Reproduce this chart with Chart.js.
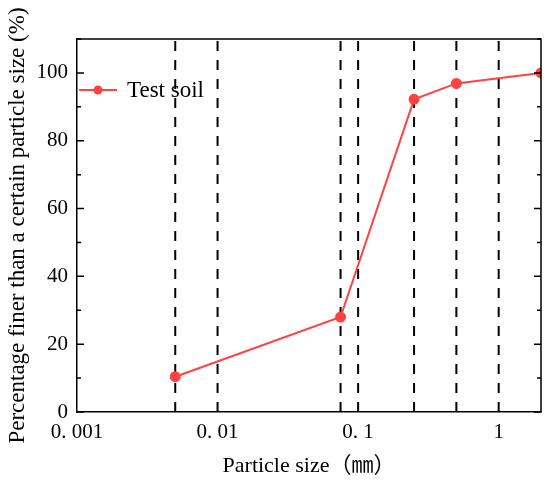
<!DOCTYPE html>
<html>
<head>
<meta charset="utf-8">
<script src="https://cdn.jsdelivr.net/npm/chart.js@4.4.1/dist/chart.umd.min.js"></script>
<style>
  body { margin: 0; background: #fff; }
  #wrap { width: 550px; height: 483px; }
</style>
</head>
<body>
<div id="wrap"><canvas id="chart" width="550" height="483"></canvas></div>
<script>
// Grain size data
const sizes = [0.005, 0.075, 0.25, 0.5, 2];
const finer = [10.4, 28, 92.2, 96.9, 100];
const seriesName = 'Test soil';

// Dashed reference sizes
const guides = [0.005, 0.01, 0.075, 0.1, 0.25, 0.5, 1];

// Tick labels
const xTicks = [0.001, 0.01, 0.1, 1];
const xTickLabels = ['0. 001', '0. 01', '0. 1', '1'];
const yTicks = [0, 20, 40, 60, 80, 100];

const serif = "'Liberation Serif', 'Times New Roman', 'Noto Sans CJK SC', serif";
const red = '#ff4242';

const datasets = [{
    label: seriesName,
    data: sizes.map((s, i) => ({ x: s, y: finer[i] })),
    borderColor: red,
    backgroundColor: red,
    borderWidth: 2,
    pointRadius: 4.5,
    pointHoverRadius: 4.5,
    order: 0
}];

guides.forEach(g => {
    datasets.push({
        label: '',
        data: [{ x: g, y: 0 }, { x: g, y: 110 }],
        borderColor: '#000',
        borderWidth: 2,
        borderDash: [10, 9],
        pointRadius: 0,
        order: 1
    });
});

// inward ticks on both sides, frame and legend
const framePlugin = {
    id: 'frame',
    afterDraw(chart) {
        const ctx = chart.ctx;
        const area = chart.chartArea;
        const y = chart.scales.y;
        ctx.save();
        ctx.strokeStyle = '#000';
        ctx.lineWidth = 1.5;
        ctx.beginPath();
        ctx.moveTo(area.left, area.top);
        ctx.lineTo(area.right, area.top);
        ctx.lineTo(area.right, area.bottom);
        ctx.stroke();

        for (let v = 0; v <= 110; v += 10) {
            const py = y.getPixelForValue(v);
            const len = yTicks.includes(v) ? 7 : 4;
            ctx.beginPath();
            ctx.moveTo(area.left, py);
            ctx.lineTo(area.left + len, py);
            ctx.moveTo(area.right, py);
            ctx.lineTo(area.right - len, py);
            ctx.stroke();
        }

        // legend
        const lx = area.left + 2, ly = 90;
        ctx.strokeStyle = red;
        ctx.lineWidth = 2;
        ctx.beginPath();
        ctx.moveTo(lx, ly);
        ctx.lineTo(lx + 38, ly);
        ctx.stroke();
        ctx.fillStyle = red;
        ctx.beginPath();
        ctx.arc(lx + 19, ly, 4.5, 0, Math.PI * 2);
        ctx.fill();
        ctx.fillStyle = '#000';
        ctx.font = '23px ' + serif;
        ctx.textBaseline = 'middle';
        ctx.fillText(chart.data.datasets[0].label, lx + 48, ly + 1);
        ctx.restore();
    }
};

new Chart(document.getElementById('chart'), {
    type: 'line',
    data: { datasets: datasets },
    options: {
        responsive: false,
        animation: false,
        layout: { padding: { top: 39, right: 9, left: 0, bottom: 0 } },
        plugins: {
            legend: { display: false },
            tooltip: { enabled: false }
        },
        scales: {
            x: {
                type: 'logarithmic',
                min: 0.001,
                max: 2,
                afterBuildTicks: scale => {
                    scale.ticks = xTicks.map(v => ({ value: v }));
                },
                afterFit: scale => { scale.height = 71; },
                grid: { display: false, drawTicks: false },
                border: { display: true, color: '#000', width: 1.5 },
                ticks: {
                    autoSkip: false,
                    maxRotation: 0,
                    padding: 8,
                    color: '#000',
                    font: { family: serif, size: 21 },
                    callback: (v) => {
                        const i = xTicks.indexOf(v);
                        return i >= 0 ? xTickLabels[i] : '';
                    }
                },
                title: {
                    display: true,
                    text: 'Particle size（㎜）',
                    color: '#000',
                    font: { family: serif, size: 22 },
                    padding: { top: 4, bottom: 4 }
                }
            },
            y: {
                min: 0,
                max: 110,
                afterFit: scale => { scale.width = 77; },
                grid: { display: false, drawTicks: false },
                border: { display: true, color: '#000', width: 1.5 },
                ticks: {
                    stepSize: 10,
                    padding: 9,
                    color: '#000',
                    font: { family: serif, size: 21 },
                    callback: v => yTicks.includes(v) ? String(v) : ''
                },
                title: {
                    display: true,
                    text: 'Percentage finer than a certain particle size (%)',
                    color: '#000',
                    font: { family: serif, size: 23 },
                    padding: { top: 4, bottom: 4 }
                }
            }
        }
    },
    plugins: [framePlugin]
});
</script>
</body>
</html>
